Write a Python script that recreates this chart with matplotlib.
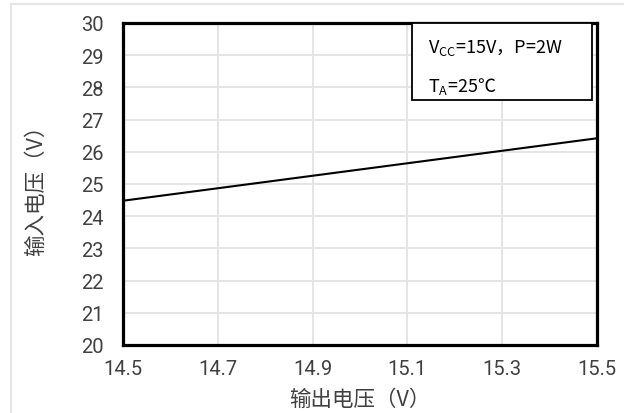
import matplotlib
matplotlib.use("Agg")
import matplotlib.pyplot as plt
from matplotlib.patches import Rectangle

# data
vout = [14.5, 15.5]
vin = [24.48, 26.42]
xticks = [14.5, 14.7, 14.9, 15.1, 15.3, 15.5]
yticks = list(range(20, 31))
note_line1 = r"V$_{\mathrm{CC}}$=15V，P=2W"
note_line2 = r"T$_{\mathrm{A}}$=25℃"

plt.rcParams['font.family'] = ['Roboto', 'Noto Sans CJK SC', 'DejaVu Sans']
plt.rcParams['mathtext.fontset'] = 'custom'
plt.rcParams['mathtext.rm'] = 'Noto Sans CJK SC'
cjk = ['Noto Sans CJK SC', 'DejaVu Sans']
grey = '#404040'

fig = plt.figure(figsize=(6.24, 4.14), dpi=100)
# light frame round the whole picture
fig.patches.append(Rectangle((11 / 624, -0.05), 1.1, (414 - 4.5) / 414 + 0.05,
                             transform=fig.transFigure, fill=False,
                             edgecolor='#e6e6e6', linewidth=1.6))

ax = fig.add_axes([123 / 624, (414 - 346) / 414, 474 / 624, 322 / 414])
ax.plot(vout, vin, color='black', linewidth=1.5)

ax.set_xlim(14.5, 15.5)
ax.set_ylim(20, 30)
ax.set_xticks(xticks)
ax.set_xticklabels([f"{v:.1f}" for v in xticks])
ax.set_yticks(yticks)
ax.grid(True, color='#e3e3e3', linewidth=1.3)
ax.set_axisbelow(True)
ax.tick_params(length=0, labelsize=14.5, labelcolor=grey)
ax.tick_params(axis='y', pad=14)
ax.tick_params(axis='x', pad=10)
for s in ax.spines.values():
    s.set_linewidth(2.3)
    s.set_color('black')

ax.set_xlabel("输出电压（V）", family=cjk, fontsize=15.5, color=grey)
ax.set_ylabel("输入电压（V）", family=cjk, fontsize=15.5, color=grey)
ax.xaxis.set_label_coords(0.5, -0.132)
ax.yaxis.set_label_coords(-0.16, 0.5)

# condition box in the upper right corner
ax.add_patch(Rectangle((0.61, 0.762), 0.379, 0.238, transform=ax.transAxes,
                       fill=True, facecolor='white', edgecolor='black',
                       linewidth=1.3, zorder=3))
ax.text(0.643, 0.925, note_line1, transform=ax.transAxes, family=cjk,
        fontsize=13, color='black', va='center', zorder=4)
ax.text(0.643, 0.805, note_line2, transform=ax.transAxes, family=cjk,
        fontsize=13, color='black', va='center', zorder=4)

fig.savefig("out.png", dpi=100)
